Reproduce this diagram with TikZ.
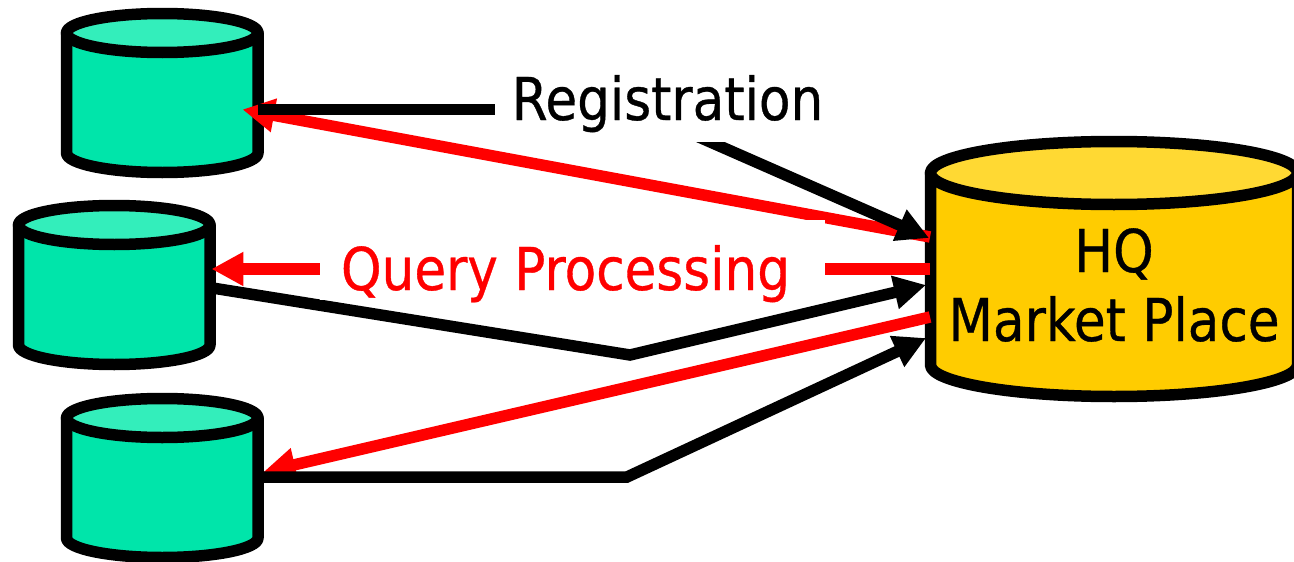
\documentclass[tikz,border=0pt]{standalone}
\usepackage{fontspec}
\setmainfont{DejaVu Sans}[FakeStretch=0.875,FakeBold=0.6]
\usetikzlibrary{arrows.meta}
\definecolor{dbbody}{HTML}{00E5AA}
\definecolor{dbtop}{HTML}{33EEBB}
\definecolor{hqbody}{HTML}{FFCC00}
\definecolor{hqtop}{HTML}{FFD933}
\newcommand{\dbcyl}[8]{%
  \pgfmathsetmacro{\mL}{#2-#4}\pgfmathsetmacro{\mR}{#2+#4}%
  \pgfmathsetmacro{\mB}{#3+#6}\pgfmathsetmacro{\mE}{#3+#6+#5}%
  \pgfmathsetmacro{\mK}{#3+#6+0.55*#5}%
  \pgfmathsetmacro{\mA}{#2-0.55*#4}\pgfmathsetmacro{\mC}{#2+0.55*#4}%
  \pgfmathsetmacro{\mY}{#3+#6/2}%
  \pgfmathsetmacro{\mW}{2*#4+10.5}\pgfmathsetmacro{\mH}{2*#5+#6+10.5}%
  \draw[cylline,fill=#7] (\mL,#3) -- (\mL,\mB) .. controls (\mL,\mK) and (\mA,\mE) .. (#2,\mE)
     .. controls (\mC,\mE) and (\mR,\mK) .. (\mR,\mB) -- (\mR,#3) -- cycle;
  \draw[cylline,fill=#8] (#2,#3) ellipse [x radius=#4pt, y radius=#5pt];
  \node[inner sep=0pt,minimum width=\mW pt,minimum height=\mH pt] (#1) at (#2,\mY) {};%
}
\tikzset{
  cylline/.style={line width=11.5pt,line join=round,draw=black},
  blackflow/.style={line width=11.5pt,draw=black},
  redflow/.style={line width=11.5pt,draw=red},
  tipped/.style={-{Triangle[length=32pt,width=32pt]}},
  labelbox/.style={fill=white,inner sep=0pt,anchor=base,font=\fontsize{59}{69}\selectfont},
}
\begin{document}
\begin{tikzpicture}[x=1pt,y=-1pt]
\clip (0,0) rectangle (1294,562);
\dbcyl{dba}{162.25}{33}{95.75}{19.5}{120}{dbbody}{dbtop}
\dbcyl{dbb}{114.25}{225}{95.75}{19.5}{120}{dbbody}{dbtop}
\dbcyl{dbc}{162.25}{418}{95.75}{19.5}{120}{dbbody}{dbtop}
\dbcyl{hq}{1114}{173}{183.5}{31.5}{192}{hqbody}{hqtop}
\node[font=\fontsize{59}{69}\selectfont,align=center,text=black,anchor=base] (hqtext) at (1114,341) {HQ\\Market Place};
\coordinate (bendA) at (630,355);
\coordinate (bendB) at (627,477);
% label positions, painted over the lines at the end
\path node[labelbox,opacity=0,text height=60pt,text depth=22pt,minimum width=345pt] (reg) at (667.5,120) {}
      node[labelbox,opacity=0,text height=70pt,text depth=10pt,minimum width=505pt] (qry) at (572.5,290) {};
% red flows
\draw[redflow,tipped] ([shift={(5pt,32pt)}]hq.west) -- ([shift={(-21pt,-16.5pt)}]dba.east);
\draw[redflow,tipped] ([shift={(5pt,0pt)}]hq.west) -- ([shift={(-4pt,16pt)}]dbb.east);
\draw[redflow,tipped] ([shift={(5pt,-48pt)}]hq.west) -- ([shift={(0pt,6pt)}]dbc.east);
% black flows
\draw[blackflow] ([yshift=-8.5pt]reg.west) -- ([shift={(-5pt,-16.5pt)}]dba.east);
\draw[blackflow,tipped] ([yshift=19pt]reg.south) -- ([shift={(4pt,31pt)}]hq.west);
\draw[blackflow,tipped] ([shift={(-3pt,-3pt)}]dbb.east) -- (bendA) -- ([shift={(1pt,-16pt)}]hq.west);
\draw[blackflow,tipped] ([shift={(-5pt,1pt)}]dbc.east) -- (bendB) -- ([shift={(1pt,-69pt)}]hq.west);
% labels
\node[labelbox,text height=60pt,text depth=22pt,text=black] (regtext) at (reg.base) {\makebox[345pt][c]{Registration}};
\node[labelbox,text height=70pt,text depth=10pt,text=red] (qrytext) at (qry.base) {\makebox[505pt][l]{\hspace{21pt}Query Processing}};
\end{tikzpicture}
\end{document}
